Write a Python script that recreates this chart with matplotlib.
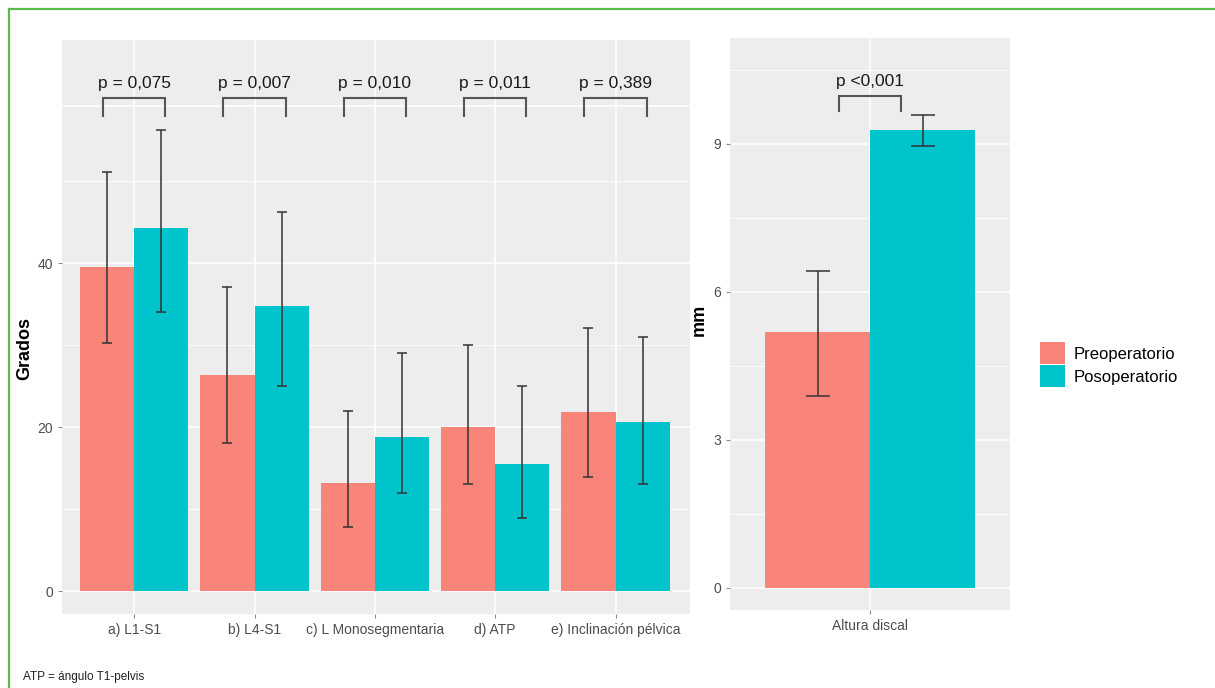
import numpy as np
import matplotlib.pyplot as plt
from matplotlib.lines import Line2D
from matplotlib.patches import Patch

plt.rcParams['font.family'] = ['Liberation Sans', 'DejaVu Sans']

# angle measures (degrees)
categories = ["a) L1-S1", "b) L4-S1", "c) L Monosegmentaria", "d) ATP", "e) Inclinación pélvica"]
pre_mean = [39.5, 26.3, 13.2, 20.0, 21.9]
pre_low = [30.2, 18.0, 7.8, 13.0, 13.9]
pre_high = [51.1, 37.1, 22.0, 30.0, 32.1]
pos_mean = [44.3, 34.8, 18.8, 15.5, 20.6]
pos_low = [34.0, 25.0, 11.9, 8.9, 13.0]
pos_high = [56.2, 46.2, 29.0, 25.0, 31.0]
p_values = ["p = 0,075", "p = 0,007", "p = 0,010", "p = 0,011", "p = 0,389"]

# disc height (mm)
disc_cat = ["Altura discal"]
disc_pre = [5.19]
disc_pre_low = [3.89]
disc_pre_high = [6.43]
disc_pos = [9.29]
disc_pos_low = [8.95]
disc_pos_high = [9.59]
disc_p = ["p <0,001"]

PRE_COL = "#F9857A"
POS_COL = "#00C4CC"
PANEL = "#EDEDED"
TXT = "#4D4D4D"


def style_panel(ax):
    ax.set_facecolor(PANEL)
    for s in ax.spines.values():
        s.set_visible(False)
    ax.tick_params(axis="both", length=3, color="#8a8a8a", labelcolor=TXT, labelsize=10)
    ax.set_axisbelow(True)


def draw_group(ax, cats, pm, pl, ph, qm, ql, qh, capsize):
    x = np.arange(len(cats))
    w = 0.45
    ax.bar(x - w / 2, pm, width=w, color=PRE_COL, zorder=2)
    ax.bar(x + w / 2, qm, width=w, color=POS_COL, zorder=2)
    pm, pl, ph = map(np.array, (pm, pl, ph))
    qm, ql, qh = map(np.array, (qm, ql, qh))
    ax.errorbar(x - w / 2, pm, yerr=[pm - pl, ph - pm], fmt="none", ecolor="#333333",
                elinewidth=1.1, capsize=capsize, capthick=1.1, zorder=3)
    ax.errorbar(x + w / 2, qm, yerr=[qm - ql, qh - qm], fmt="none", ecolor="#333333",
                elinewidth=1.1, capsize=capsize, capthick=1.1, zorder=3)
    ax.set_xticks(x)
    ax.set_xticklabels(cats)
    return x


def bracket(ax, xc, half, top, drop, label):
    ax.plot([xc - half, xc - half, xc + half, xc + half],
            [top - drop, top, top, top - drop], color="#555555", lw=1.5, zorder=4,
            solid_joinstyle="miter")
    ax.text(xc, top + drop * 0.45, label, ha="center", va="bottom", fontsize=12.5, color="#1a1a1a")


fig = plt.figure(figsize=(12.15, 6.88), dpi=100)

# left panel: degrees
ax1 = fig.add_axes([0.051, 0.1076, 0.517, 0.834])
style_panel(ax1)
x1 = draw_group(ax1, categories, pre_mean, pre_low, pre_high, pos_mean, pos_low, pos_high, 3.3)
ax1.set_xlim(-0.6, 4.62)
ax1.set_ylim(-2.8, 67.2)
ax1.set_yticks([0, 20, 40])
for g in [10, 30, 50]:
    ax1.axhline(g, color="white", lw=0.6, zorder=0)
for g in [0, 20, 40, 59.2]:
    ax1.axhline(g, color="white", lw=1.2, zorder=0)
for xv in x1:
    ax1.axvline(xv, color="white", lw=1.2, zorder=0)
ax1.set_ylabel("Grados", fontsize=13, fontweight="bold", color="black")
ax1.yaxis.set_label_coords(-0.045, 0.463)
for xv, lab in zip(x1, p_values):
    bracket(ax1, xv, 0.26, 60.1, 2.1, lab)

# right panel: mm
ax2 = fig.add_axes([0.601, 0.1134, 0.2305, 0.8314])
style_panel(ax2)
x2 = draw_group(ax2, disc_cat, disc_pre, disc_pre_low, disc_pre_high,
                disc_pos, disc_pos_low, disc_pos_high, 8.5)
ax2.set_xlim(-0.6, 0.6)
ax2.set_ylim(-0.45, 11.15)
ax2.set_yticks([0, 3, 6, 9])
for g in [1.5, 4.5, 7.5, 10.5]:
    ax2.axhline(g, color="white", lw=0.6, zorder=0)
for g in [0, 3, 6, 9]:
    ax2.axhline(g, color="white", lw=1.2, zorder=0)
ax2.axvline(0, color="white", lw=1.2, zorder=0)
ax2.set_ylabel("mm", fontsize=13, fontweight="bold", color="black")
ax2.yaxis.set_label_coords(-0.082, 0.507)
bracket(ax2, x2[0], 0.133, 9.98, 0.32, disc_p[0])

# legend
handles = [Patch(facecolor=PRE_COL, label="Preoperatorio"),
           Patch(facecolor=POS_COL, label="Posoperatorio")]
fig.legend(handles=handles, loc="center left", bbox_to_anchor=(0.844, 0.47), frameon=False,
           fontsize=12, handlelength=1.5, handleheight=1.6, handletextpad=0.5,
           labelspacing=0.1)

# green frame lines (top and left)
fig.add_artist(Line2D([0.0074, 1.0], [0.987, 0.987], color="#5DB74F", lw=1.6))
fig.add_artist(Line2D([0.0074, 0.0074], [0.0, 0.987], color="#5DB74F", lw=1.6))

fig.text(0.019, 0.016, "ATP = ángulo T1-pelvis", fontsize=8.5, color="#222222", va="center")

plt.savefig("out.png", dpi=100)
